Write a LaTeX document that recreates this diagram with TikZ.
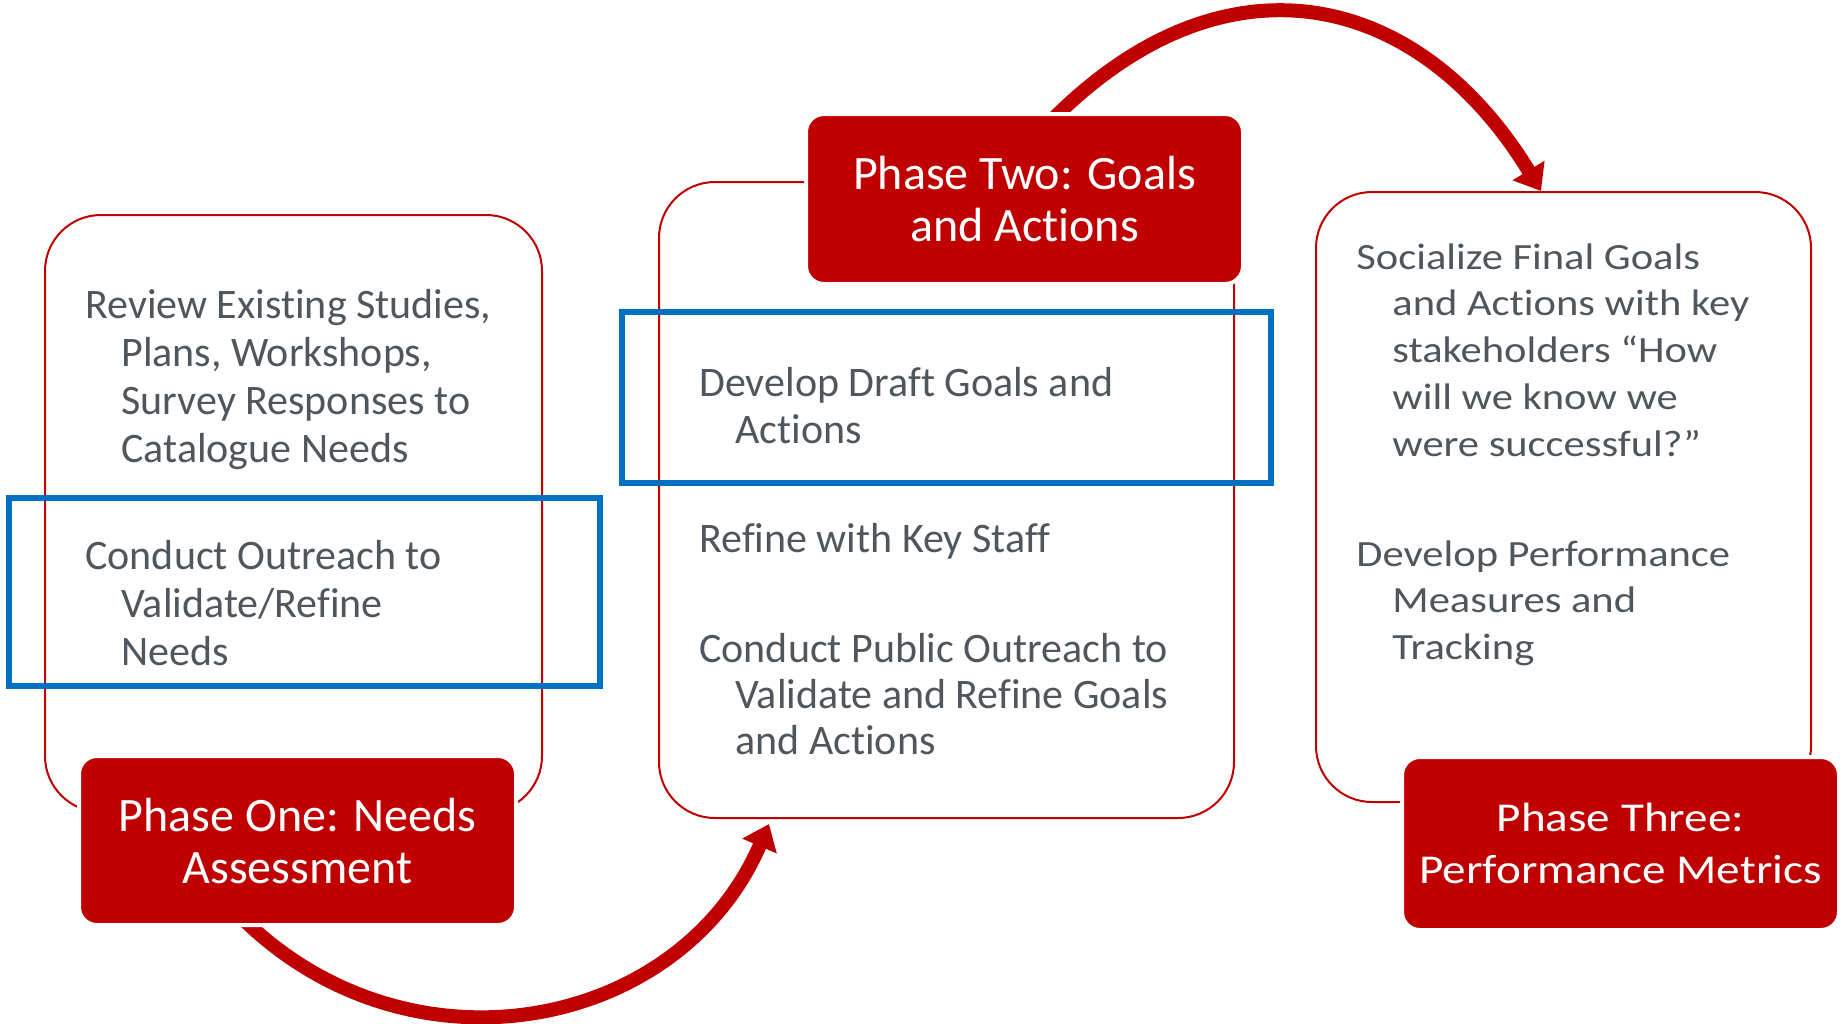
\documentclass[tikz,border=0pt]{standalone}
\usepackage{fontspec}
\setmainfont{Carlito}[Ligatures={NoCommon}]
\newfontfamily\widefont[FakeStretch=1.15,Ligatures={NoCommon}]{Carlito}
\usetikzlibrary{arrows.meta,calc}
\pgfdeclarelayer{background}
\pgfdeclarelayer{canvas}
\pgfsetlayers{canvas,background,main}
\definecolor{pred}{HTML}{C00000}
\definecolor{pblue}{HTML}{0070C0}
\definecolor{ptext}{RGB}{80,87,92}
\newcommand\myind{\hspace*{18pt}}
\tikzset{
 panel/.style={draw=pred, line width=1pt, rounded corners=28pt, fill=white, inner sep=0pt},
 phase/.style={fill=pred, draw=white, line width=2pt, rounded corners=9pt, text=white, align=center, font=\fontsize{24}{26}\selectfont, inner sep=0pt},
 hilite/.style={draw=pblue, line width=3pt, inner sep=0pt},
 body/.style={text=ptext, align=left, anchor=north west, inner sep=0pt, font=\fontsize{21}{24}\selectfont},
 flow/.style={draw=pred, line width=7pt, -{Triangle[length=12pt,width=18pt]}},
}
\begin{document}
\begin{tikzpicture}[x=0.5pt,y=-0.5pt]
\begin{pgfonlayer}{canvas}
\fill[white] (0,0) rectangle (1846,1023);
\end{pgfonlayer}
\useasboundingbox (0,0) rectangle (1846,1023);
% panels
\node[panel, minimum width=248.5pt, minimum height=298.5pt] (pan1) at (293.5,513.5) {};
\node[panel, minimum width=287.5pt, minimum height=318pt] (pan2) at (946.5,500) {};
\node[panel, minimum width=247.5pt, minimum height=305pt] (pan3) at (1563.5,497) {};
% highlight boxes
\node[hilite, minimum width=295.5pt, minimum height=94pt] (b1) at (304.5,592) {};
\node[hilite, minimum width=324.5pt, minimum height=85.5pt] (b2) at (946.5,397.5) {};
% texts
\node[body] (t1a) at (85,289) {Review Existing Studies,\\\myind Plans, Workshops,\\\myind Survey Responses to\\\myind Catalogue Needs};
\node[body] (t1b) at (85,540) {Conduct Outreach to\\\myind Validate/Refine\\\myind Needs};
\node[body, font=\fontsize{21}{23.5}\selectfont] (t2a) at (699,367) {Develop Draft Goals and\\\myind Actions};
\node[body] (t2b) at (699,523) {Refine with Key Staff};
\node[body, font=\fontsize{21}{23}\selectfont] (t2c) at (699,633) {Conduct Public Outreach to\\\myind Validate and Refine Goals\\\myind and Actions};
\node[body, font=\widefont\fontsize{18.5}{23.4}\selectfont] (t3a) at (1356,243) {Socialize Final Goals\\\myind and Actions with key\\\myind stakeholders “How\\\myind will we know we\\\myind were successful?”};
\node[body, font=\widefont\fontsize{18.5}{23.4}\selectfont] (t3b) at (1356,540) {Develop Performance\\\myind Measures and\\\myind Tracking};
% phase boxes
\node[phase, minimum width=218.5pt, minimum height=84.5pt] (ph1) at (297.5,840.5) {Phase One: Needs\\Assessment};
\node[phase, minimum width=218.5pt, minimum height=85pt] (ph2) at (1024.5,199) {Phase Two: Goals\\and Actions};
\node[phase, minimum width=218.5pt, minimum height=86.5pt, font=\widefont\fontsize{20.5}{26}\selectfont] (ph3) at (1620.5,843.5) {Phase Three:\\Performance Metrics};
% arrows
\begin{pgfonlayer}{background}
\draw[flow] ($(ph1.south west)+(167,-7)$) .. controls +(168,163) and +(-89,206) .. ($(pan2.south west)+(111,5)$);
\draw[flow] ($(ph2.north west)+(249,7)$) .. controls +(173,-173) and +(-122,-200) .. ($(pan3.north west)+(226,0)$);
\end{pgfonlayer}
\end{tikzpicture}
\end{document}
